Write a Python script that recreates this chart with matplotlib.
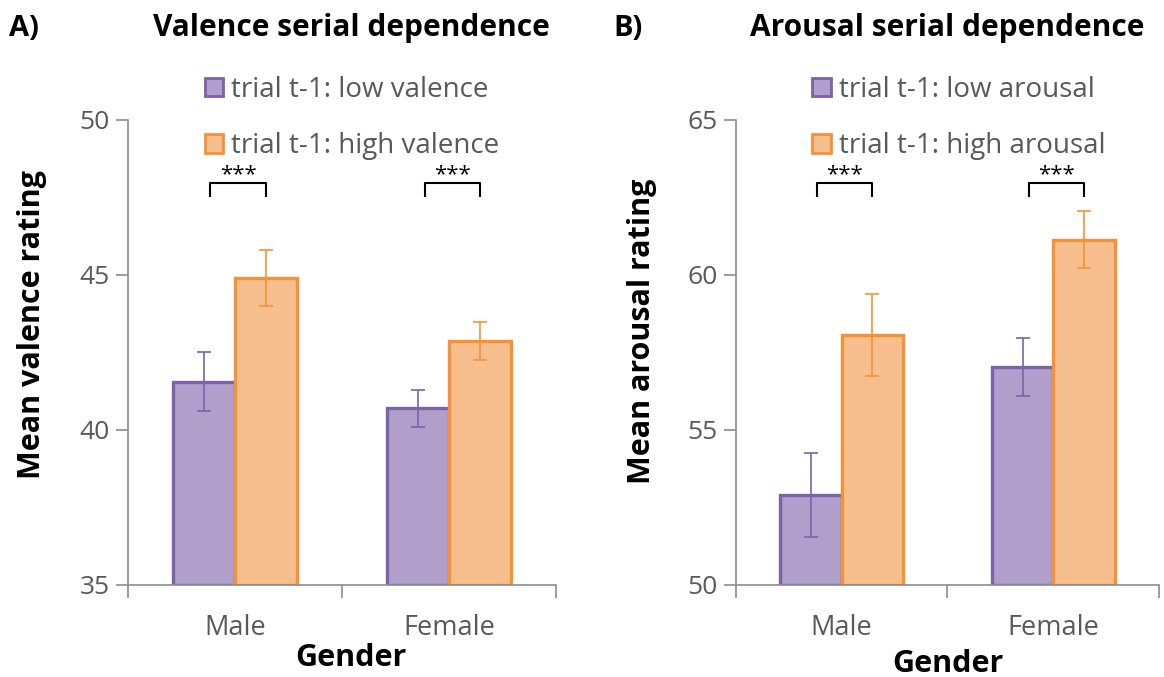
import matplotlib
matplotlib.use('Agg')
import matplotlib.pyplot as plt
from matplotlib.patches import Patch
from matplotlib.transforms import blended_transform_factory

plt.rcParams['font.family'] = ['Open Sans', 'DejaVu Sans']

# Dados
generos = ['Male', 'Female']

valencia_baixa = [41.55, 40.70]
valencia_baixa_ep = [0.95, 0.60]
valencia_alta = [44.90, 42.87]
valencia_alta_ep = [0.90, 0.62]

arousal_baixo = [52.90, 57.03]
arousal_baixo_ep = [1.37, 0.93]
arousal_alto = [58.06, 61.13]
arousal_alto_ep = [1.33, 0.92]

roxo_borda = '#7d62a8'
roxo_fill = '#b09fca'
laranja_borda = '#f39239'
laranja_fill = '#f8bf8e'
cinza = '#595959'
cinza_eixo = '#8c8c8c'

largura = 0.29


def desenhar_painel(ax, baixo, baixo_ep, alto, alto_ep, ylim, yticks, ylabel, xlabel_pos, ylabel_pos):
    xs = range(len(generos))
    x_baixo = [x - largura / 2 for x in xs]
    x_alto = [x + largura / 2 for x in xs]

    ax.bar(x_baixo, [v - ylim[0] for v in baixo], largura, bottom=ylim[0],
           color=roxo_fill, edgecolor=roxo_borda, linewidth=2.4, zorder=2)
    ax.bar(x_alto, [v - ylim[0] for v in alto], largura, bottom=ylim[0],
           color=laranja_fill, edgecolor=laranja_borda, linewidth=2.4, zorder=2)
    ax.errorbar(x_baixo, baixo, yerr=baixo_ep, fmt='none', ecolor=roxo_borda,
                elinewidth=1.2, capsize=5, capthick=1.2, zorder=3)
    ax.errorbar(x_alto, alto, yerr=alto_ep, fmt='none', ecolor=laranja_borda,
                elinewidth=1.2, capsize=5, capthick=1.2, zorder=3)

    # colchetes de significância
    trans = blended_transform_factory(ax.transData, ax.transAxes)
    for xb, xa in zip(x_baixo, x_alto):
        x0, x1 = xb + 0.03, xa
        ax.plot([x0, x0, x1, x1], [0.836, 0.865, 0.865, 0.836], color='black',
                lw=1.5, transform=trans, clip_on=False)
        ax.text((x0 + x1) / 2, 0.871, '***', transform=trans, ha='center',
                va='baseline', fontsize=16, color='black')

    ax.set_xlim(-0.5, 1.5)
    ax.set_ylim(*ylim)
    ax.set_yticks(yticks)
    ax.set_xticks(list(xs))
    ax.set_xticklabels(generos)
    ax.set_xticks([-0.5, 0.5, 1.5], minor=True)
    ax.tick_params(axis='x', which='major', length=0, pad=21, labelsize=19.5, labelcolor=cinza)
    ax.tick_params(axis='x', which='minor', length=9, color=cinza_eixo, width=1.2)
    ax.tick_params(axis='y', length=9, color=cinza_eixo, width=1.2, pad=4,
                   labelsize=19, labelcolor=cinza)
    for lado in ['top', 'right']:
        ax.spines[lado].set_visible(False)
    for lado in ['left', 'bottom']:
        ax.spines[lado].set_color(cinza_eixo)
        ax.spines[lado].set_linewidth(1.2)
    ax.set_ylabel(ylabel, fontsize=22, fontweight='bold')
    ax.yaxis.set_label_coords(ylabel_pos[0], ylabel_pos[1])
    ax.set_xlabel('Gender', fontsize=22, fontweight='bold')
    ax.xaxis.set_label_coords(xlabel_pos[0], xlabel_pos[1])


fig = plt.figure(figsize=(11.64, 6.77), dpi=100)
ax1 = fig.add_axes([0.110, 0.136, 0.368, 0.687])
ax2 = fig.add_axes([0.632, 0.136, 0.364, 0.687])

desenhar_painel(ax1, valencia_baixa, valencia_baixa_ep, valencia_alta, valencia_alta_ep,
                (35, 50), [35, 40, 45, 50], 'Mean valence rating', (0.52, -0.125), (-0.19, 0.56))
desenhar_painel(ax2, arousal_baixo, arousal_baixo_ep, arousal_alto, arousal_alto_ep,
                (50, 65), [50, 55, 60, 65], 'Mean arousal rating', (0.5, -0.137), (-0.185, 0.545))

fig.text(0.302, 0.958, 'Valence serial dependence', ha='center', va='center',
         fontsize=21.5, fontweight='bold')
fig.text(0.814, 0.958, 'Arousal serial dependence', ha='center', va='center',
         fontsize=21.5, fontweight='bold')
fig.text(0.008, 0.958, 'A)', ha='left', va='center', fontsize=21, fontweight='bold')
fig.text(0.527, 0.958, 'B)', ha='left', va='center', fontsize=21, fontweight='bold')

for ax, nome, xleg in [(ax1, 'valence', 0.176), (ax2, 'arousal', 0.698)]:
    handles = [Patch(facecolor=roxo_fill, edgecolor=roxo_borda, linewidth=2),
               Patch(facecolor=laranja_fill, edgecolor=laranja_borda, linewidth=2)]
    labels = [f'trial t-1: low {nome}', f'trial t-1: high {nome}']
    leg = fig.legend(handles, labels, loc='upper left', bbox_to_anchor=(xleg, 0.888),
                     frameon=False, fontsize=20, handlelength=0.65, handleheight=0.65,
                     handletextpad=0.3, labelspacing=1.02, borderaxespad=0, borderpad=0)
    for t in leg.get_texts():
        t.set_color(cinza)

fig.savefig('out.png', dpi=100)
